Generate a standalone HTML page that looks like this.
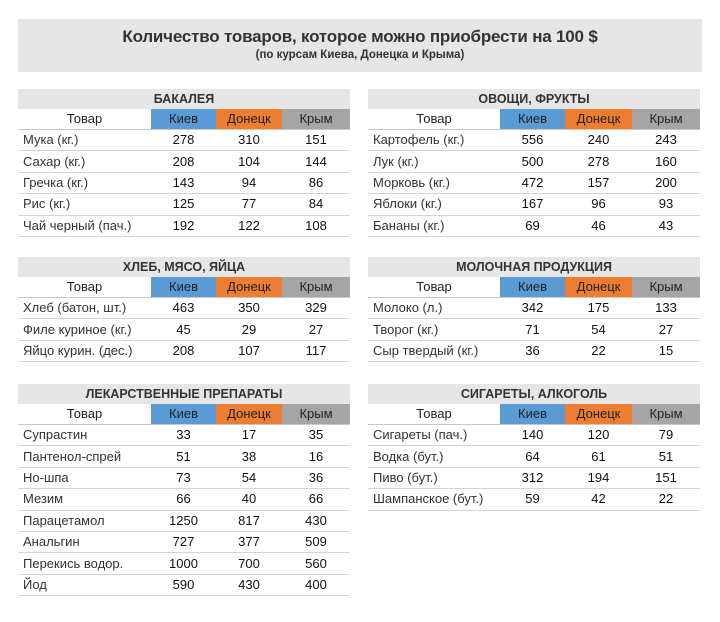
<!DOCTYPE html>
<html><head><meta charset="utf-8"><style>
body{margin:0;width:720px;height:622px;background:#fff;font-family:"Liberation Sans",sans-serif;position:relative;overflow:hidden}
.title{position:absolute;left:18px;top:19px;width:684px;height:53px;background:#e6e6e6;text-align:center}
.title .a{font-weight:bold;font-size:17px;color:#333;margin-top:8px;letter-spacing:-0.2px}
.title .b{font-weight:bold;font-size:11.5px;color:#333;margin-top:2px}
table{position:absolute;border-collapse:collapse;table-layout:fixed;font-size:13px;color:#111}
td{padding:0;white-space:nowrap;text-align:center;height:20.4px;border-bottom:1px solid #d4d4d4;line-height:20px}
td.l{text-align:left;padding-left:5px;color:#333}
tr.t td{background:#e6e6e6;font-weight:bold;font-size:12.5px;color:#333;border-bottom:none;height:20px}
tr.h td{border-bottom:1px solid #c8c8c8;height:20px;color:#222}
tr.h td.l{text-align:center;padding-left:0}
.k{background:#5b9bd5}.d{background:#ed7d31}.c{background:#a5a5a5}
</style></head><body>
<div class="title"><div class="a">Количество товаров, которое можно приобрести на 100 $</div><div class="b">(по курсам Киева, Донецка и Крыма)</div></div>

<table style="left:18px;top:89px;width:332px"><colgroup><col style="width:133px"><col style="width:65px"><col style="width:66px"><col style="width:68px"></colgroup>
<tr class="t"><td colspan="4">БАКАЛЕЯ</td></tr>
<tr class="h"><td class="l">Товар</td><td class="k">Киев</td><td class="d">Донецк</td><td class="c">Крым</td></tr>
<tr><td class="l">Мука (кг.)</td><td>278</td><td>310</td><td>151</td></tr>
<tr><td class="l">Сахар (кг.)</td><td>208</td><td>104</td><td>144</td></tr>
<tr><td class="l">Гречка (кг.)</td><td>143</td><td>94</td><td>86</td></tr>
<tr><td class="l">Рис (кг.)</td><td>125</td><td>77</td><td>84</td></tr>
<tr><td class="l">Чай черный (пач.)</td><td>192</td><td>122</td><td>108</td></tr>
</table>

<table style="left:368px;top:89px;width:332px"><colgroup><col style="width:132px"><col style="width:65px"><col style="width:67px"><col style="width:68px"></colgroup>
<tr class="t"><td colspan="4">ОВОЩИ, ФРУКТЫ</td></tr>
<tr class="h"><td class="l">Товар</td><td class="k">Киев</td><td class="d">Донецк</td><td class="c">Крым</td></tr>
<tr><td class="l">Картофель (кг.)</td><td>556</td><td>240</td><td>243</td></tr>
<tr><td class="l">Лук (кг.)</td><td>500</td><td>278</td><td>160</td></tr>
<tr><td class="l">Морковь (кг.)</td><td>472</td><td>157</td><td>200</td></tr>
<tr><td class="l">Яблоки (кг.)</td><td>167</td><td>96</td><td>93</td></tr>
<tr><td class="l">Бананы (кг.)</td><td>69</td><td>46</td><td>43</td></tr>
</table>

<table style="left:18px;top:257px;width:332px"><colgroup><col style="width:133px"><col style="width:65px"><col style="width:66px"><col style="width:68px"></colgroup>
<tr class="t"><td colspan="4">ХЛЕБ, МЯСО, ЯЙЦА</td></tr>
<tr class="h"><td class="l">Товар</td><td class="k">Киев</td><td class="d">Донецк</td><td class="c">Крым</td></tr>
<tr><td class="l">Хлеб (батон, шт.)</td><td>463</td><td>350</td><td>329</td></tr>
<tr><td class="l">Филе куриное (кг.)</td><td>45</td><td>29</td><td>27</td></tr>
<tr><td class="l">Яйцо курин. (дес.)</td><td>208</td><td>107</td><td>117</td></tr>
</table>

<table style="left:368px;top:257px;width:332px"><colgroup><col style="width:132px"><col style="width:65px"><col style="width:67px"><col style="width:68px"></colgroup>
<tr class="t"><td colspan="4">МОЛОЧНАЯ ПРОДУКЦИЯ</td></tr>
<tr class="h"><td class="l">Товар</td><td class="k">Киев</td><td class="d">Донецк</td><td class="c">Крым</td></tr>
<tr><td class="l">Молоко (л.)</td><td>342</td><td>175</td><td>133</td></tr>
<tr><td class="l">Творог (кг.)</td><td>71</td><td>54</td><td>27</td></tr>
<tr><td class="l">Сыр твердый (кг.)</td><td>36</td><td>22</td><td>15</td></tr>
</table>

<table style="left:18px;top:384px;width:332px"><colgroup><col style="width:133px"><col style="width:65px"><col style="width:66px"><col style="width:68px"></colgroup>
<tr class="t"><td colspan="4">ЛЕКАРСТВЕННЫЕ ПРЕПАРАТЫ</td></tr>
<tr class="h"><td class="l">Товар</td><td class="k">Киев</td><td class="d">Донецк</td><td class="c">Крым</td></tr>
<tr><td class="l">Супрастин</td><td>33</td><td>17</td><td>35</td></tr>
<tr><td class="l">Пантенол-спрей</td><td>51</td><td>38</td><td>16</td></tr>
<tr><td class="l">Но-шпа</td><td>73</td><td>54</td><td>36</td></tr>
<tr><td class="l">Мезим</td><td>66</td><td>40</td><td>66</td></tr>
<tr><td class="l">Парацетамол</td><td>1250</td><td>817</td><td>430</td></tr>
<tr><td class="l">Анальгин</td><td>727</td><td>377</td><td>509</td></tr>
<tr><td class="l">Перекись водор.</td><td>1000</td><td>700</td><td>560</td></tr>
<tr><td class="l">Йод</td><td>590</td><td>430</td><td>400</td></tr>
</table>

<table style="left:368px;top:384px;width:332px"><colgroup><col style="width:132px"><col style="width:65px"><col style="width:67px"><col style="width:68px"></colgroup>
<tr class="t"><td colspan="4">СИГАРЕТЫ, АЛКОГОЛЬ</td></tr>
<tr class="h"><td class="l">Товар</td><td class="k">Киев</td><td class="d">Донецк</td><td class="c">Крым</td></tr>
<tr><td class="l">Сигареты (пач.)</td><td>140</td><td>120</td><td>79</td></tr>
<tr><td class="l">Водка (бут.)</td><td>64</td><td>61</td><td>51</td></tr>
<tr><td class="l">Пиво (бут.)</td><td>312</td><td>194</td><td>151</td></tr>
<tr><td class="l">Шампанское (бут.)</td><td>59</td><td>42</td><td>22</td></tr>
</table>
</body></html>
